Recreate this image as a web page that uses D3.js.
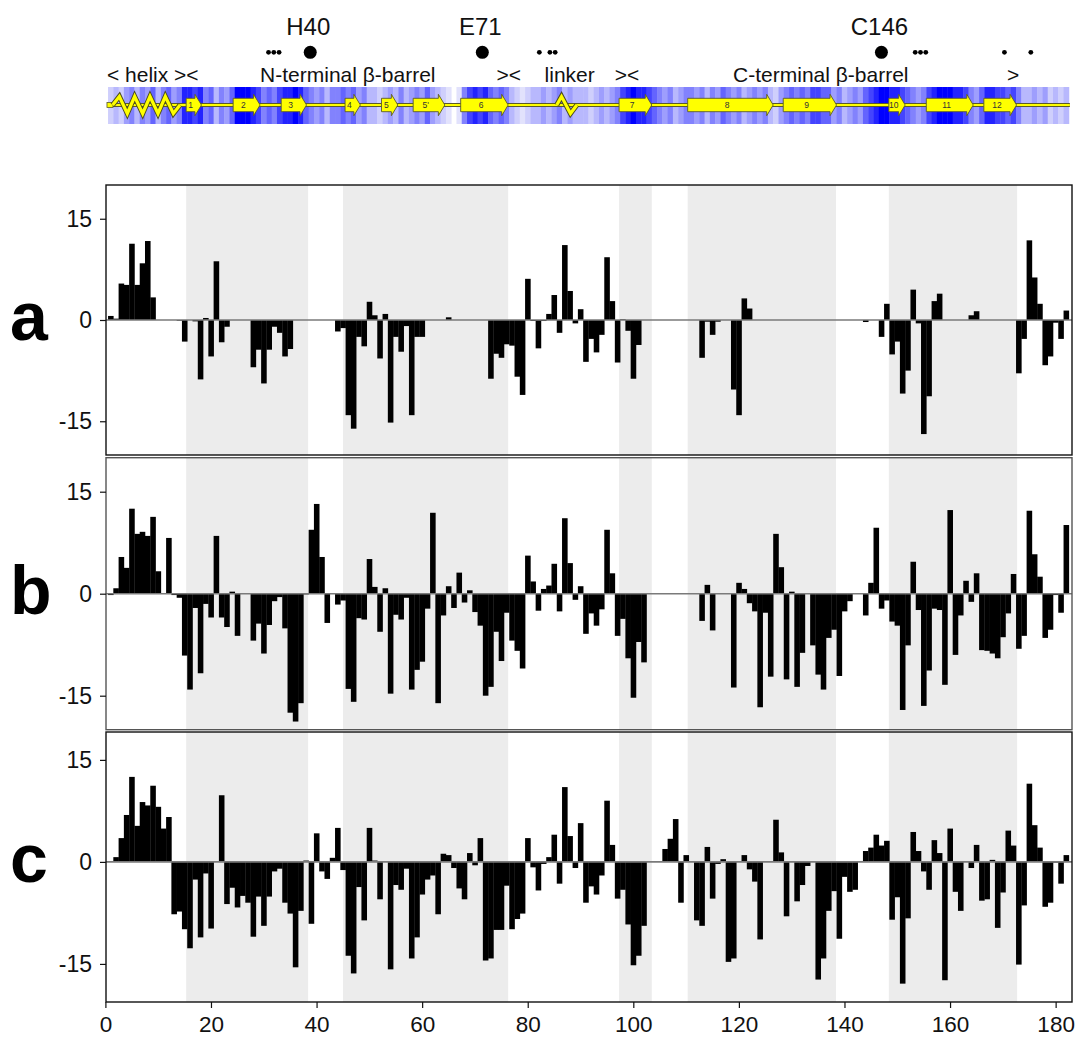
<!DOCTYPE html>
<html><head><meta charset="utf-8">
<script src="https://cdn.jsdelivr.net/npm/d3@7"></script>
<style>body{margin:0;background:#fff;} svg{display:block;font-family:"Liberation Sans",Arial,sans-serif;}</style>
</head><body><svg id="chart" width="1076" height="1038"></svg>
<script>
// ---------------- DATA ----------------
const residues = d3.range(1, 183);
const valuesA = [
 0.6,0.2,5.4,5.2,11.3,5.2,8.4,11.7,3.35,0,
 0,0,0,-0.1,-3.2,0,-0.2,-8.8,0.3,-5.4,
 8.7,-3.3,-1.0,0,0,0,0,-7.0,-4.4,-9.4,
 -4.4,-1.0,-1.9,-5.4,-4.3,0,0,0,0,0,
 0,0,0,-1.7,-1.2,-14.1,-16.1,-2.5,-3.9,2.7,
 0.7,-5.7,0.9,-15.2,-2.5,-4.7,-0.9,-14.1,-2.5,-2.5,
 0,0,0,0,0.4,0,0,0,0,0,
 0,0,-8.7,-5.0,-5.6,-3.6,-3.8,-8.4,-11.1,6.1,
 -0.15,-4.2,-0.15,0.9,3.7,-1.9,11.1,4.3,-0.5,1.6,
 -6.2,-2.8,-4.8,-2.2,9.3,2.8,-6.3,0.1,-1.6,-8.7,
 -3.7,0,0,0,0,0,0,0,0,0,
 0,0,-5.6,-0.25,-2.2,-0.25,0,0,-10.3,-14.1,
 3.2,1.7,0,0,0,0,0,0,0,0,
 0,0,0,0,0,0,0,0,0,0,
 0,0,0,-0.3,0,0,-2.5,2.4,-5.1,-3.2,
 -10.9,-7.5,4.5,-0.5,-16.9,-11.3,2.8,3.9,0,0,
 0,0,0,0.7,1.3,0,0,0,0,0,
 0,0,-7.9,-2.8,11.8,6.3,2.4,-6.7,-5.4,-0.4,
 -2.8,1.4];
const valuesB = [
 -0.2,0.8,5.4,3.8,12.5,8.8,9.1,8.5,11.3,3.3,
 0,8.2,-0.2,-0.6,-9.1,-14.1,-2.1,-11.7,-1.5,-3.5,
 8.5,-3.5,-4.9,0.3,-6.2,0,0,-6.9,-4.4,-8.8,
 -4.6,-1.1,-0.5,-5.1,-17.5,-18.8,-16.1,-0.1,9.4,13.2,
 5.4,-4.3,0,-1.6,-1.0,-14.0,-15.9,-3.6,-3.8,5.1,
 1.0,-5.6,0.8,-14.7,-3.1,-3.8,-0.6,-14.1,-11.2,-10.0,
 -2.2,11.9,-16.1,-3.2,1.1,-2.1,3.1,-1.3,0.5,-2.7,
 -4.7,-15.0,-13.7,-5.6,-9.9,-2.8,-6.9,-8.4,-11.0,5.6,
 1.8,-2.5,0.7,1.2,4.4,-2.6,11.1,4.5,-0.9,1.1,
 -5.9,-2.9,-4.7,-2.3,9.4,3.0,-6.2,-3.7,-9.5,-15.3,
 -7.1,-10.1,0,0,0,0,0,0,0,0,
 0,0,-4.0,1.3,-5.4,0,0,0,-13.8,1.6,
 0.7,-1.4,-2.6,-16.7,-2.8,-12.2,8.8,3.9,-12.6,0.3,
 -13.7,-8.7,0,-7.6,-11.9,-14.1,-6.5,-5.3,-12.1,-2.6,
 -1.1,0,0,-3.2,1.6,9.7,-2.2,-1.0,-4.1,-4.7,
 -17.1,-7.6,4.7,-2.4,-16.5,-11.3,-2.2,-2.4,-13.4,12.3,
 -9.0,-3.2,1.9,-1.2,3.0,-8.3,-8.4,-8.8,-9.5,-6.4,
 -2.9,2.9,-8.1,-6.2,12.2,5.8,2.5,-6.5,-5.3,-0.2,
 -2.8,10.1];
const valuesC = [
 0,0.7,3.5,6.9,12.5,5.3,8.8,8.3,11.2,8.1,
 4.9,6.6,-7.7,-7.3,-9.9,-12.7,-2.6,-11.1,-1.7,-9.8,
 0,9.8,-6.2,-3.8,-6.7,-5.0,-6.0,-11.0,-5.1,-9.4,
 -5.1,-1.4,-1.0,-6.0,-7.6,-15.5,-7.2,0.2,-9.1,4.2,
 -1.4,-2.5,0.6,5.0,-1.2,-13.8,-16.4,-3.7,-8.6,5.0,
 0.2,-5.5,0,-15.8,-3.4,-4.1,-1.0,-14.2,-11.1,-4.8,
 -2.6,-2.0,-7.7,1.2,1.0,-0.9,-3.9,-5.5,1.3,-0.5,
 3.5,-14.5,-14.2,-10.0,-10.0,-3.5,-9.9,-8.4,-7.6,3.5,
 -0.8,-4.2,-0.3,0.7,4.0,-3.2,11.0,3.8,-0.9,5.7,
 -6.0,-3.6,-4.8,-2.0,9.0,2.5,-5.4,-4.1,-9.2,-15.2,
 -13.8,-9.4,0,0,0,1.9,3.4,6.3,-6.0,1.0,
 0,-8.6,-9.4,2.2,-5.4,-0.3,0.4,-14.7,-14.2,0,
 1.0,-1.1,-2.9,-11.4,0,0,6.2,1.4,-8.0,0,
 -5.8,-3.4,-0.6,0,-17.3,-14.2,-7.2,-4.3,-11.3,-2.2,
 -4.4,-4.1,0,1.6,2.1,4.0,2.4,3.1,-8.5,-5.2,
 -17.9,-8.3,4.4,1.6,-1.4,-4.1,3.2,1.3,-17.4,4.9,
 -4.4,-7.2,0,-0.9,2.5,-5.7,-5.5,0.3,-9.7,-4.5,
 4.6,2.4,-15.1,-6.4,11.5,5.4,2.1,-6.6,-6.0,-0.1,
 -3.2,1.0];
// conservation level (0-9) per residue for the blue strip; null = no data
const conservation = [
 2,3,2,4,5,3,5,4,6,3,
 5,6,4,5,8,8,7,8,5,6,
 3,5,4,6,9,9,9,8,7,5,
 6,5,7,8,8,9,8,6,5,4,
 5,3,5,5,6,5,6,4,5,3,
 3,2,3,4,3,5,3,4,5,4,
 6,4,3,2,1,null,1,5,7,8,
 7,8,6,5,6,5,3,2,1,2,
 3,3,4,3,4,5,3,4,3,3,
 3,2,3,4,3,4,5,7,8,9,
 8,8,7,6,5,4,5,3,4,5,
 5,4,5,3,5,4,6,5,4,5,
 3,4,5,4,5,3,2,4,5,6,
 5,6,5,7,7,6,6,4,5,3,
 4,5,4,6,7,8,9,9,8,8,
 7,6,5,4,5,7,8,9,9,9,
 8,8,7,5,4,6,8,8,7,7,
 6,7,5,3,3,4,3,4,2,3,
 2,3];
const panelNames = ["a", "b", "c"];
const xTicks = [0, 20, 40, 60, 80, 100, 120, 140, 160, 180];
const yTicks = [-15, 0, 15];
const bandStart = [15.3, 45.0, 97.3, 110.3, 148.4];
const bandEnd   = [38.4, 76.3, 103.5, 138.4, 172.7];
const strandNames = ["1","2","3","4","5","5'","6","7","8","9","10","11","12"];
const strandStart = [15.3,24.2,33.3,45.4,52.3,58.3,67.3,97.3,110.3,128.4,148.4,155.5,166.4];
const strandEnd   = [18.2,29.3,38.1,48.3,55.4,64.3,76.3,103.5,126.5,138.5,151.5,164.4,172.6];
const helixPos  = [1.38,2.64,4.15,5.54,7.06,8.45,9.96,11.35,12.87,14.13];
const helixSide = [0,1,-1,1,-1,1,-1,1,-1,0];
const linkerPos  = [85.5,86.4,88.1,89.3];
const linkerSide = [0,1,-1,0];
const siteNames = ["H40", "E71", "C146"];
const sitePos = [38.8, 71.4, 147.0];
const smallDotPos = [30.9,31.9,32.9,82.2,84.2,85.2,153.4,154.4,155.4,170.3,175.3];
const domainLabels = ["< helix ><", "N-terminal \u03b2-barrel", "><", "linker", "><", "C-terminal \u03b2-barrel", ">"];
const domainLabelPos = [0.3, 29.3, 74.1, 83.2, 96.5, 118.9, 170.8];

// ---------------- DRAW ----------------
(function () {
const svg = d3.select("#chart");
const x = d3.scaleLinear().domain([0, 183.1]).range([105.4, 1072]);
const left = 106, right = 1072;
const fmt = d => String(d);

// top structure strip
const stripTop = 87, stripBot = 124, bbY = 105;
const blue = d3.interpolateRgb("#eeeefc", "#0000ff");
const topG = svg.append("g");
topG.selectAll("rect.cell").data(residues.filter((r, i) => conservation[i] !== null))
  .join("rect").attr("class", "cell")
  .attr("x", r => x(r - 0.5)).attr("width", r => x(r + 0.5) - x(r - 0.5) + 0.4)
  .attr("y", stripTop).attr("height", stripBot - stripTop)
  .attr("fill", r => blue(Math.pow(conservation[r - 1] / 9, 1.35)));

// backbone
topG.append("line").attr("x1", x(0.3)).attr("x2", x(182.7)).attr("y1", bbY).attr("y2", bbY)
  .attr("stroke", "#5a5a2a").attr("stroke-width", 4);
topG.append("line").attr("x1", x(0.3)).attr("x2", x(182.7)).attr("y1", bbY).attr("y2", bbY)
  .attr("stroke", "#ffff00").attr("stroke-width", 2);
topG.append("rect").attr("x", x(0.3)).attr("y", bbY - 2.5).attr("width", 6).attr("height", 5)
  .attr("fill", "#ffff00").attr("stroke", "#5a5a2a").attr("stroke-width", 0.8);

// helices
function zig(pos, side, amp) {
  const line = d3.line().x(d => x(d[0])).y(d => bbY - d[1] * amp);
  const pts = pos.map((p, i) => [p, side[i]]);
  topG.append("path").attr("d", line(pts)).attr("fill", "none").attr("stroke", "#4a4a20")
    .attr("stroke-width", 5.2).attr("stroke-linejoin", "miter");
  topG.append("path").attr("d", line(pts)).attr("fill", "none").attr("stroke", "#ffff00")
    .attr("stroke-width", 3.2).attr("stroke-linejoin", "miter");
}
zig(helixPos, helixSide, 8.5);
zig(linkerPos, linkerSide, 8.5);

// strands
strandNames.forEach((name, i) => {
  const x0 = x(strandStart[i]), x1 = x(strandEnd[i]), xb = x1 - 6.5;
  const pts = [[x0, bbY - 6.7], [xb, bbY - 6.7], [xb, bbY - 10.7], [x1, bbY], [xb, bbY + 10.7], [xb, bbY + 6.7], [x0, bbY + 6.7]];
  topG.append("path").attr("d", "M" + pts.map(p => p.join(",")).join("L") + "Z")
    .attr("fill", "#ffff00").attr("stroke", "#5a5a2a").attr("stroke-width", 0.9);
  topG.append("text").attr("x", (x0 + xb) / 2).attr("y", bbY + 3).attr("text-anchor", "middle")
    .attr("font-size", 8.5).attr("fill", "#333").text(name);
});

// domain labels
domainLabels.forEach((t, i) => {
  topG.append("text").attr("x", x(domainLabelPos[i])).attr("y", 82)
    .attr("font-size", 21).attr("fill", "#111").text(t);
});

// sites
sitePos.forEach((p, i) => {
  topG.append("circle").attr("cx", x(p)).attr("cy", 52.3).attr("r", 6.5).attr("fill", "#000");
  topG.append("text").attr("x", x(p) - 2).attr("y", 35).attr("text-anchor", "middle")
    .attr("font-size", 24).attr("fill", "#111").text(siteNames[i]);
});
smallDotPos.forEach(p => {
  topG.append("circle").attr("cx", x(p)).attr("cy", 52.3).attr("r", 2.4).attr("fill", "#000");
});

// panels
const panels = [
  {name: panelNames[0], values: valuesA, top: 185, bottom: 455, domain: [-20, 20]},
  {name: panelNames[1], values: valuesB, top: 457.7, bottom: 729.7, domain: [-20, 20]},
  {name: panelNames[2], values: valuesC, top: 732, bottom: 1002, domain: [-20.6, 19.1]}
];
panels.forEach((p, pi) => {
  const y = d3.scaleLinear().domain(p.domain).range([p.bottom, p.top]);
  const g = svg.append("g");
  g.selectAll("rect.band").data(bandStart).join("rect").attr("class", "band")
    .attr("x", (d, i) => x(d)).attr("width", (d, i) => x(bandEnd[i]) - x(d))
    .attr("y", p.top).attr("height", p.bottom - p.top).attr("fill", "#ececec");
  const data = residues.map((r, i) => ({r, v: p.values[i]})).filter(d => d.v !== 0);
  g.selectAll("rect.bar").data(data).join("rect").attr("class", "bar")
    .attr("x", d => x(d.r - 0.5)).attr("width", d => x(d.r + 0.5) - x(d.r - 0.5) + 0.3)
    .attr("y", d => y(Math.max(0, d.v))).attr("height", d => Math.abs(y(d.v) - y(0)))
    .attr("fill", "#000");
  g.append("line").attr("x1", left).attr("x2", right).attr("y1", y(0)).attr("y2", y(0))
    .attr("stroke", "#7a7a7a").attr("stroke-width", 1.6);
  g.append("rect").attr("x", left).attr("y", p.top).attr("width", right - left).attr("height", p.bottom - p.top)
    .attr("fill", "none").attr("stroke", pi === 1 ? "#555" : "#111").attr("stroke-width", 1.4);
  const ax = g.append("g").attr("transform", `translate(${left},0)`)
    .call(d3.axisLeft(y).tickValues(yTicks).tickSize(6).tickPadding(8).tickFormat(fmt));
  ax.select(".domain").remove();
  ax.selectAll("text").attr("font-size", 23).attr("font-family", "Liberation Sans, Arial, sans-serif").attr("fill", "#111");
  ax.selectAll("line").attr("stroke", "#111").attr("stroke-width", 1.2);
  g.append("text").attr("x", 10).attr("y", y(0) + 20).attr("font-size", 68).attr("font-weight", "bold")
    .attr("fill", "#000").text(p.name);
  if (pi === 2) {
    const bx = g.append("g").attr("transform", `translate(0,${p.bottom})`)
      .call(d3.axisBottom(x).tickValues(xTicks).tickSize(6).tickPadding(8).tickFormat(fmt));
    bx.select(".domain").remove();
    bx.selectAll("text").attr("font-size", 22.5).attr("font-family", "Liberation Sans, Arial, sans-serif").attr("fill", "#111");
    bx.selectAll("line").attr("stroke", "#111").attr("stroke-width", 1.2);
  }
});
})();
</script></body></html>
